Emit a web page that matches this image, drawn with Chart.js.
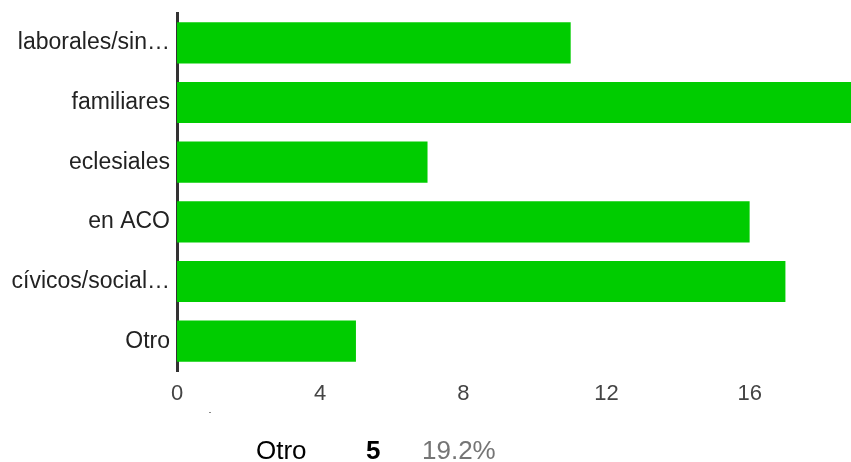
<!DOCTYPE html>
<html>
<head>
<meta charset="utf-8">
<script src="https://cdn.jsdelivr.net/npm/chart.js@4.4.1/dist/chart.umd.min.js"></script>
<style>
html,body{margin:0;padding:0;overflow:hidden;background:#fff;width:851px;height:462px;}
#wrap{position:relative;width:857px;height:462px;}
</style>
</head>
<body>
<div id="wrap"><canvas id="c"></canvas></div>
<script>
const categories = ["laborales/sin…", "familiares", "eclesiales", "en ACO", "cívicos/social…", "Otro"];
const counts = [11, 19, 7, 16, 17, 5];
const tickValues = [0, 4, 8, 12, 16];
const footerLabel = "Otro";
const footerCount = "5";
const footerPercent = "19.2%";

const FONT = "'Liberation Sans', Arial, sans-serif";

const footerPlugin = {
  id: 'footer',
  afterDraw(chart) {
    const ctx = chart.ctx;
    ctx.save();
    ctx.textBaseline = 'alphabetic';
    ctx.textAlign = 'left';
    ctx.font = "26px " + FONT;
    ctx.fillStyle = '#000';
    ctx.fillText(footerLabel, 256, 459);
    ctx.font = "bold 26px " + FONT;
    ctx.fillText(footerCount, 366, 459);
    ctx.font = "26px " + FONT;
    ctx.fillStyle = '#757575';
    ctx.fillText(footerPercent, 422, 459);
    ctx.fillStyle = '#888';
    ctx.fillRect(209, 412, 2, 1);
    ctx.restore();
  }
};

new Chart(document.getElementById('c'), {
  type: 'bar',
  data: {
    labels: categories,
    datasets: [{
      data: counts,
      backgroundColor: '#00cc00',
      borderWidth: 0,
      barPercentage: 0.69,
      categoryPercentage: 1
    }]
  },
  options: {
    indexAxis: 'y',
    responsive: true,
    maintainAspectRatio: false,
    animation: false,
    layout: { padding: { top: 13, right: 0, left: 0, bottom: 0 } },
    plugins: { legend: { display: false }, tooltip: { enabled: false } },
    scales: {
      x: {
        min: 0,
        max: 19,
        afterBuildTicks(scale) { scale.ticks = tickValues.map(v => ({ value: v })); },
        afterFit(scale) { scale.height = 91; scale.paddingLeft = 0; scale.paddingRight = 0; },
        grid: { display: false, drawTicks: false },
        border: { display: false },
        ticks: { color: '#444', font: { family: FONT, size: 22 }, padding: 10, maxRotation: 0 }
      },
      y: {
        z: 1,
        afterFit(scale) { scale.width = 177; scale.paddingTop = 0; scale.paddingBottom = 0; },
        grid: { display: false, drawTicks: false },
        border: { display: true, color: '#333', width: 3 },
        ticks: { color: '#222', font: { family: FONT, size: 23 }, padding: 7, autoSkip: false }
      }
    }
  },
  plugins: [footerPlugin]
});
</script>
</body>
</html>
